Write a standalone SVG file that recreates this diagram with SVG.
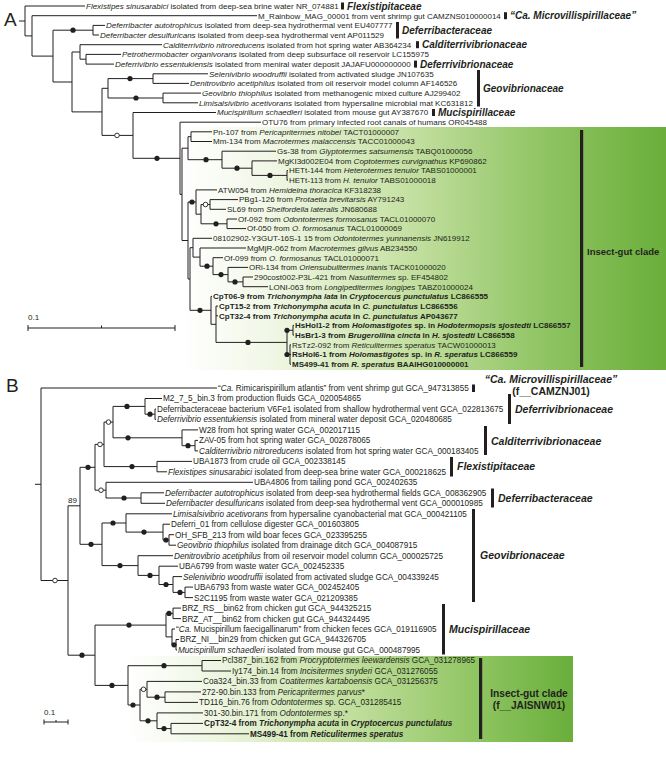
<svg xmlns="http://www.w3.org/2000/svg" width="666" height="760" viewBox="0 0 666 760">
<style>
.t{font-family:"Liberation Sans",Arial,Helvetica,sans-serif;font-size:8px;fill:#231f20}
.tB{font-size:8.2px}
.i{font-style:italic}
.b{font-weight:bold}
.fam{font-family:"Liberation Sans",Arial,sans-serif;font-weight:bold;font-style:italic;font-size:10px;fill:#231f20}
.famB{font-size:10.5px}
.cl{font-family:"Liberation Sans",Arial,sans-serif;font-weight:bold;font-size:9.5px;fill:#231f20}
.br{fill:none;stroke:#231f20;stroke-width:1}
.d{fill:#231f20}
.o{fill:#fff;stroke:#231f20;stroke-width:0.9}
.bar{fill:#231f20}
.pl{font-family:"Liberation Sans",Arial,sans-serif;font-size:19px;fill:#231f20}
</style>
<defs>
<linearGradient id="gA" gradientUnits="userSpaceOnUse" x1="183" y1="0" x2="666" y2="0">
<stop offset="0" stop-color="#ffffff"/>
<stop offset="0.18" stop-color="#f1f7e6"/>
<stop offset="0.45" stop-color="#c8e2a6"/>
<stop offset="0.75" stop-color="#8fc462"/>
<stop offset="1" stop-color="#6aae3b"/>
</linearGradient>
<linearGradient id="gB" gradientUnits="userSpaceOnUse" x1="128" y1="0" x2="573" y2="0">
<stop offset="0" stop-color="#ffffff"/>
<stop offset="0.2" stop-color="#eef6e2"/>
<stop offset="0.5" stop-color="#c2df9e"/>
<stop offset="0.8" stop-color="#8cc35e"/>
<stop offset="1" stop-color="#6aae3b"/>
</linearGradient>
</defs>

<!-- backgrounds -->
<rect x="183" y="127" width="483" height="243" fill="url(#gA)"/>
<rect x="128" y="656" width="445" height="86" fill="url(#gB)"/>

<text class="pl" x="4" y="26">A</text>
<text class="pl" x="6" y="392">B</text>

<!-- connectors panel A -->
<g id="connectors-A">
<path class="br" d="M19,21H25 M25,6V35.9 M25,6H85 M25,35.9H32 M32,15.7V56.1 M32,15.7H257 M32,56.1H53 M53,30.2V82 M53,30.2H93 M93,25.4V35 M93,25.4H105 M93,35H99 M53,82H72 M72,52V111.9 M72,52H80 M80,44.7V59.2 M80,44.7H162 M80,59.2H86 M86,54.4V64.1 M86,54.4H121 M86,64.1H114 M72,111.9H102 M102,88.3V135.4 M102,88.3H108 M108,78.6V98 M108,78.6H153 M153,73.8V83.4 M153,73.8H208 M153,83.4H189 M108,98H163 M163,93.1V102.8 M163,93.1H201 M163,102.8H198 M102,135.4H133 M133,112.5V158.3 M133,112.5H216 M133,158.3H180 M180,122.2V194.4 M180,122.2H261 M180,194.4H182 M182,148.2V240.5 M182,148.2H188 M188,136.7V159.7 M188,136.7H191 M191,131.8V141.5 M191,131.8H212 M191,141.5H212 M188,159.7H222 M222,151.2V168.2 M222,151.2H276 M222,168.2H252 M252,160.9V175.4 M252,160.9H277 M252,175.4H287 M287,170.6V180.2 M287,170.6H288 M287,180.2H288 M182,240.5H188 M188,202V279 M188,202H196 M196,189.9V214.2 M196,189.9H217 M196,214.2H201 M201,204.5V223.8 M201,204.5H210 M210,199.6V209.3 M210,199.6H238 M210,209.3H226 M201,223.8H227 M227,219V228.6 M227,219H237 M227,228.6H246 M188,279H190 M190,247.7V310.3 M190,247.7H193 M193,238.3V257.1 M193,238.3H212 M193,257.1H200 M200,248V266.2 M200,248H246 M200,266.2H213 M213,257.7V274.6 M213,257.7H223 M213,274.6H228 M228,267.4V281.9 M228,267.4H248 M228,281.9H243 M243,277V286.7 M243,277H253 M243,286.7H268 M190,310.3H211 M211,296.4V324.3 M211,296.4H212 M211,324.3H216 M216,306.1V342.4 M216,306.1H218 M216,315.8H218 M216,342.4H287 M287,330.3V354.5 M287,330.3H293 M293,325.4V335.1 M293,325.4H294 M293,335.1H294 M287,354.5H290 M290,344.8V364.2 M290,344.8H291 M290,354.5H291 M290,364.2H291"/>
<g class="d">
<circle cx="73" cy="30.2" r="2.6"/><circle cx="130" cy="78.6" r="2.6"/><circle cx="136" cy="98" r="2.6"/><circle cx="157" cy="158.3" r="2.6"/><circle cx="206" cy="159.7" r="2.6"/><circle cx="237" cy="168.2" r="2.6"/><circle cx="270" cy="175.4" r="2.6"/><circle cx="192" cy="202" r="2.6"/><circle cx="216" cy="223.8" r="2.6"/><circle cx="207" cy="266.2" r="2.6"/><circle cx="221" cy="274.6" r="2.6"/><circle cx="235" cy="281.9" r="2.6"/><circle cx="200" cy="310.3" r="2.6"/><circle cx="248" cy="342.4" r="2.6"/><circle cx="287" cy="330.3" r="2.6"/><circle cx="287" cy="354.5" r="2.6"/>
</g>
<g class="o"><circle cx="117" cy="135.4" r="2.3"/><circle cx="205.5" cy="204.5" r="2.3"/></g>
<path class="br" d="M28,328H175 M28,325V331 M175,325V331 M101.5,325.5V328"/>
<text class="t" x="28" y="320">0.1</text>
</g>

<!-- connectors panel B -->
<g id="connectors-B">
<path class="br" d="M35,484.3H41 M41,388V580.5 M41,388H217 M41,580.5H68 M68,505.8V655.2 M68,505.8H80 M80,467.3V544.3 M80,467.3H95 M95,444.4V490.2 M95,444.4H104 M104,422.1V466.6 M104,422.1H113 M113,406.4V437.8 M113,406.4H145 M145,398.5V414.2 M145,398.5H162 M145,414.2H155 M155,409V419.4 M155,409H156 M155,419.4H156 M113,437.8H182 M182,429.9V445.7 M182,429.9H198 M182,445.7H195 M195,440.4V450.9 M195,440.4H198 M195,450.9H198 M104,466.6H157 M157,461.4V471.8 M157,461.4H192 M157,471.8H167 M95,490.2H106 M106,482.3V498 M106,482.3H253 M106,498H141 M141,492.8V503.3 M141,492.8H164 M141,503.3H165 M80,544.3H102 M102,523V565.6 M102,523H126 M126,513.8V532.1 M126,513.8H172 M126,532.1H163 M163,524.2V540 M163,524.2H170 M163,540H169 M169,534.7V545.2 M169,534.7H174 M169,545.2H176 M102,565.6H138 M138,555.7V575.4 M138,555.7H173 M138,575.4H159 M159,566.2V584.5 M159,566.2H178 M159,584.5H173 M173,576.6V592.4 M173,576.6H182 M173,592.4H185 M185,587.1V597.6 M185,587.1H193 M185,597.6H193 M68,655.2H95 M95,625.1V685.4 M95,625.1H166 M166,613.4V636.9 M166,613.4H173 M173,608.1V618.6 M173,608.1H181 M173,618.6H181 M166,636.9H172 M172,629V644.8 M172,629H175 M172,644.8H176 M176,639.5V650 M176,639.5H179 M176,650H177 M95,685.4H128 M128,665.7V705 M128,665.7H202 M202,660.5V671 M202,660.5H221 M202,671H231 M128,705H140 M140,689.3V720.8 M140,689.3H147 M147,681.4V697.2 M147,681.4H202 M147,697.2H165 M165,691.9V702.4 M165,691.9H201 M165,702.4H198 M140,720.8H157 M157,712.9V728.6 M157,712.9H203 M157,728.6H171 M171,723.4V733.8 M171,723.4H203 M171,733.8H249"/>
<g class="d">
<circle cx="88" cy="467.3" r="2.6"/><circle cx="127" cy="406.4" r="2.6"/><circle cx="150" cy="414.2" r="2.6"/><circle cx="128" cy="437.8" r="2.6"/><circle cx="188" cy="445.7" r="2.6"/><circle cx="132" cy="466.6" r="2.6"/><circle cx="124" cy="498" r="2.6"/><circle cx="91" cy="544.3" r="2.6"/><circle cx="113" cy="523" r="2.6"/><circle cx="144" cy="532.1" r="2.6"/><circle cx="166" cy="540" r="2.6"/><circle cx="120" cy="565.6" r="2.6"/><circle cx="150" cy="575.4" r="2.6"/><circle cx="166" cy="584.5" r="2.6"/><circle cx="180" cy="592.4" r="2.6"/><circle cx="82" cy="655.2" r="2.6"/><circle cx="129" cy="625.1" r="2.6"/><circle cx="169" cy="613.4" r="2.6"/><circle cx="174" cy="644.8" r="2.6"/><circle cx="112" cy="685.4" r="2.6"/><circle cx="164" cy="665.7" r="2.6"/><circle cx="133" cy="705" r="2.6"/><circle cx="157" cy="697.2" r="2.6"/><circle cx="148" cy="720.8" r="2.6"/><circle cx="164" cy="728.6" r="2.6"/>
</g>
<g class="o"><circle cx="100" cy="444.4" r="2.3"/><circle cx="108.5" cy="422.1" r="2.3"/><circle cx="101" cy="490.2" r="2.3"/><circle cx="55" cy="580.5" r="2.3"/><circle cx="143.5" cy="689.3" r="2.3"/></g>
<text class="t" x="68" y="502.5">89</text>
<path class="br" d="M44,722H68 M44,719.5V724.5 M68,719.5V724.5 M56,720V722"/>
<text class="t" x="44" y="715">0.1</text>
</g>

<!-- panel A leaves -->
<g id="A-leaves">
<g id="A1"><text class="t" x="86" y="8.8"><tspan class="i">Flexistipes sinusarabici</tspan> isolated from deep-sea brine water NR_074881</text></g>
<g id="A2"><text class="t" x="258" y="18.5">M_Rainbow_MAG_00001 from vent shrimp gut CAMZNS010000014</text></g>
<g id="A3"><text class="t" x="106" y="28.2"><tspan class="i">Deferribacter autotrophicus</tspan> isolated from deep-sea hydrothermal vent EU407777</text></g>
<g id="A4"><text class="t" x="100" y="37.8"><tspan class="i">Deferribacter desulfuricans</tspan> isolated from deep-sea hydrothermal vent AP011529</text></g>
<g id="A5"><text class="t" x="163" y="47.5"><tspan class="i">Calditerrivibrio nitroreducens</tspan> isolated from hot spring water AB364234</text></g>
<g id="A6"><text class="t" x="122" y="57.2"><tspan class="i">Petrothermobacter organivorans</tspan> isolated from deep subsurface oil reservoir LC155975</text></g>
<g id="A7"><text class="t" x="115" y="66.9"><tspan class="i">Deferrivibrio essentukiensis</tspan> isolated from meniral water deposit JAJAFU000000000</text></g>
<g id="A8"><text class="t" x="209" y="76.6"><tspan class="i">Selenivibrio woodruffii</tspan> isolated from activated sludge JN107635</text></g>
<g id="A9"><text class="t" x="190" y="86.2"><tspan class="i">Denitrovibrio acetiphilus</tspan> isolated from oil reservoir model column AF146526</text></g>
<g id="A10"><text class="t" x="202" y="95.9"><tspan class="i">Geovibrio thiophilus</tspan> isolated from methanogenic mixed culture AJ299402</text></g>
<g id="A11"><text class="t" x="199" y="105.6"><tspan class="i">Limisalsivibrio acetivorans</tspan> isolated from hypersaline microbial mat KC631812</text></g>
<g id="A12"><text class="t" x="217" y="115.3"><tspan class="i">Mucispirillum schaedleri</tspan> isolated from mouse gut AY387670</text></g>
<g id="A13"><text class="t" x="262" y="125">OTU76 from primary infected root canals of humans OR045488</text></g>
<g id="A14"><text class="t" x="213" y="134.6">Pn-107 from <tspan class="i">Pericapritermes nitobei</tspan> TACT01000007</text></g>
<g id="A15"><text class="t" x="213" y="144.3">Mm-134 from <tspan class="i">Macrotermes malaccensis</tspan> TACC01000043</text></g>
<g id="A16"><text class="t" x="277" y="154">Gs-38 from <tspan class="i">Glyptotermes satsumensis</tspan> TABQ01000056</text></g>
<g id="A17"><text class="t" x="278" y="163.7">MgKI3d002E04 from <tspan class="i">Coptotermes curvignathus</tspan> KP690862</text></g>
<g id="A18"><text class="t" x="289" y="173.4">HETt-144 from <tspan class="i">Heterotermes tenuior</tspan> TABS01000001</text></g>
<g id="A19"><text class="t" x="289" y="183">HETt-113 from <tspan class="i">H. tenuior</tspan> TABS01000018</text></g>
<g id="A20"><text class="t" x="218" y="192.7">ATW054 from <tspan class="i">Hemideina thoracica</tspan> KF318238</text></g>
<g id="A21"><text class="t" x="239" y="202.4">PBg1-126 from <tspan class="i">Protaetia brevitarsis</tspan> AY791243</text></g>
<g id="A22"><text class="t" x="227" y="212.1">SL69 from <tspan class="i">Shelfordella lateralis</tspan> JN680688</text></g>
<g id="A23"><text class="t" x="238" y="221.8">Of-092 from <tspan class="i">Odontotermes formosanus</tspan> TACL01000070</text></g>
<g id="A24"><text class="t" x="247" y="231.4">Of-050 from <tspan class="i">O. formosanus</tspan> TACL01000069</text></g>
<g id="A25"><text class="t" x="213" y="241.1">08102902-Y3GUT-16S-1 15 from <tspan class="i">Odontotermes yunnanensis</tspan> JN619912</text></g>
<g id="A26"><text class="t" x="247" y="250.8">MgMjR-062 from <tspan class="i">Macrotermes gilvus</tspan> AB234550</text></g>
<g id="A27"><text class="t" x="224" y="260.5">Of-099 from <tspan class="i">O. formosanus</tspan> TACL01000071</text></g>
<g id="A28"><text class="t" x="249" y="270.2">ORi-134 from <tspan class="i">Oriensubulitermes inanis</tspan> TACK01000020</text></g>
<g id="A29"><text class="t" x="254" y="279.8">290cost002-P3L-421 from <tspan class="i">Nasutitermes</tspan> sp. EF454802</text></g>
<g id="A30"><text class="t" x="269" y="289.5">LONI-063 from <tspan class="i">Longipeditermes longipes</tspan> TABZ01000024</text></g>
<g id="A31"><text class="t b" x="213" y="299.2">CpT06-9 from <tspan class="i">Trichonympha lata</tspan> in <tspan class="i">Cryptocercus punctulatus</tspan> LC866555</text></g>
<g id="A32"><text class="t b" x="219" y="308.9">CpT15-2 from <tspan class="i">Trichonympha acuta</tspan> in <tspan class="i">C. punctulatus</tspan> LC866556</text></g>
<g id="A33"><text class="t b" x="219" y="318.6">CpT32-4 from <tspan class="i">Trichonympha acuta</tspan> in <tspan class="i">C. punctulatus</tspan> AP043677</text></g>
<g id="A34"><text class="t b" x="295" y="328.2">HsHol1-2 from <tspan class="i">Holomastigotes</tspan> sp. in <tspan class="i">Hodotermopsis sjostedti</tspan> LC866557</text></g>
<g id="A35"><text class="t b" x="295" y="337.9">HsBr1-3 from <tspan class="i">Brugerollina cincta</tspan> in <tspan class="i">H. sjostedti</tspan> LC866558</text></g>
<g id="A36"><text class="t" x="292" y="347.6">RsTz2-092 from <tspan class="i">Reticulitermes speratus</tspan> TACW01000013</text></g>
<g id="A37"><text class="t b" x="292" y="357.3">RsHol6-1 from <tspan class="i">Holomastigotes</tspan> sp. in <tspan class="i">R. speratus</tspan> LC866559</text></g>
<g id="A38"><text class="t b" x="292" y="367">MS499-41 from <tspan class="i">R. speratus</tspan> BAAIHG010000001</text></g>
</g>

<!-- panel A family labels -->
<g id="A-families">
<rect class="bar" x="341" y="2.5" width="3" height="7"/><text class="fam" x="347" y="9.6">Flexistipitaceae</text>
<rect class="bar" x="504" y="12.2" width="3" height="7"/><text class="fam" x="510" y="19.3">“Ca. Microvillispirillaceae”</text>
<rect class="bar" x="396" y="22" width="3" height="16.5"/><text class="fam" x="402" y="33.8">Deferribacteraceae</text>
<rect class="bar" x="416" y="41.2" width="3" height="7"/><text class="fam" x="422" y="48.3">Calditerrivibrionaceae</text>
<rect class="bar" x="414" y="60.6" width="3" height="7"/><text class="fam" x="420" y="67.7">Deferrivibrionaceae</text>
<rect class="bar" x="477" y="70" width="3" height="36.5"/><text class="fam" x="483" y="91.9">Geovibrionaceae</text>
<rect class="bar" x="432" y="109" width="3" height="7"/><text class="fam" x="438" y="116.1">Mucispirillaceae</text>
<rect class="bar" x="580" y="130" width="3.2" height="237"/><text class="cl" x="587" y="255">Insect-gut clade</text>
</g>

<!-- panel B leaves -->
<g id="B-leaves">
<g id="B1"><text class="t tB" x="218" y="390.9">“<tspan class="i">Ca.</tspan> Rimicarispirillum atlantis” from vent shrimp gut GCA_947313855</text></g>
<g id="B2"><text class="t tB" x="163" y="401.4">M2_7_5_bin.3 from production fluids GCA_020054865</text></g>
<g id="B3"><text class="t tB" x="157" y="411.9">Deferribacteraceae bacterium V6Fe1 isolated from shallow hydrothermal vent GCA_022813675</text></g>
<g id="B4"><text class="t tB" x="157" y="422.3"><tspan class="i">Deferrivibrio essentukiensis</tspan> isolated from mineral water deposit GCA_020480685</text></g>
<g id="B5"><text class="t tB" x="199" y="432.8">W28 from hot spring water GCA_002017115</text></g>
<g id="B6"><text class="t tB" x="199" y="443.3">ZAV-05 from hot spring water GCA_002878065</text></g>
<g id="B7"><text class="t tB" x="199" y="453.8"><tspan class="i">Calditerrivibrio nitroreducens</tspan> isolated from hot spring water GCA_000183405</text></g>
<g id="B8"><text class="t tB" x="193" y="464.3">UBA1873 from crude oil GCA_002338145</text></g>
<g id="B9"><text class="t tB" x="168" y="474.7"><tspan class="i">Flexistipes sinusarabici</tspan> isolated from deep-sea brine water GCA_000218625</text></g>
<g id="B10"><text class="t tB" x="254" y="485.2">UBA4806 from tailing pond GCA_002402635</text></g>
<g id="B11"><text class="t tB" x="165" y="495.7"><tspan class="i">Deferribacter autotrophicus</tspan> isolated from deep-sea hydrothermal fields GCA_008362905</text></g>
<g id="B12"><text class="t tB" x="166" y="506.2"><tspan class="i">Deferribacter desulfuricans</tspan> isolated from deep-sea hydrothermal vent GCA_000010985</text></g>
<g id="B13"><text class="t tB" x="173" y="516.7"><tspan class="i">Limisalsivibrio acetivorans</tspan> from hypersaline cyanobacterial mat GCA_000421105</text></g>
<g id="B14"><text class="t tB" x="171" y="527.1">Deferri_01 from cellulose digester GCA_001603805</text></g>
<g id="B15"><text class="t tB" x="175" y="537.6">OH_SFB_213 from wild boar feces GCA_023395255</text></g>
<g id="B16"><text class="t tB" x="177" y="548.1"><tspan class="i">Geovibrio thiophilus</tspan> isolated from drainage ditch GCA_004087915</text></g>
<g id="B17"><text class="t tB" x="174" y="558.6"><tspan class="i">Denitrovibrio acetiphilus</tspan> from oil reservoir model column GCA_000025725</text></g>
<g id="B18"><text class="t tB" x="179" y="569.1">UBA6799 from waste water GCA_002452335</text></g>
<g id="B19"><text class="t tB" x="183" y="579.5"><tspan class="i">Selenivibrio woodruffii</tspan> isolated from activated sludge GCA_004339245</text></g>
<g id="B20"><text class="t tB" x="194" y="590">UBA6793 from waste water GCA_002452405</text></g>
<g id="B21"><text class="t tB" x="194" y="600.5">S2C1195 from waste water GCA_021209385</text></g>
<g id="B22"><text class="t tB" x="182" y="611">BRZ_RS__bin62 from chicken gut GCA_944325215</text></g>
<g id="B23"><text class="t tB" x="182" y="621.5">BRZ_AT__bin62 from chicken gut GCA_944324495</text></g>
<g id="B24"><text class="t tB" x="176" y="631.9">“<tspan class="i">Ca.</tspan> Mucispirillum faecigallinarum” from chicken feces GCA_019116905</text></g>
<g id="B25"><text class="t tB" x="180" y="642.4">BRZ_NI__bin29 from chicken gut GCA_944326705</text></g>
<g id="B26"><text class="t tB" x="178" y="652.9"><tspan class="i">Mucispirillum schaedleri</tspan> isolated from mouse gut GCA_000487995</text></g>
<g id="B27"><text class="t tB" x="222" y="663.4">Pcl387_bin.162 from <tspan class="i">Procryptotermes leewardensis</tspan> GCA_031278965</text></g>
<g id="B28"><text class="t tB" x="232" y="673.9">Iy174_bin.14 from <tspan class="i">Incisitermes snyderi</tspan> GCA_031276055</text></g>
<g id="B29"><text class="t tB" x="203" y="684.3">Coa324_bin.33 from <tspan class="i">Coatitermes kartaboensis</tspan> GCA_031256375</text></g>
<g id="B30"><text class="t tB" x="202" y="694.8">272-90.bin.133 from <tspan class="i">Pericapritermes parvus</tspan>*</text></g>
<g id="B31"><text class="t tB" x="199" y="705.3">TD116_bin.76 from <tspan class="i">Odontotermes</tspan> sp. GCA_031285415</text></g>
<g id="B32"><text class="t tB" x="204" y="715.8">301-30.bin.171 from <tspan class="i">Odontotermes</tspan> sp.*</text></g>
<g id="B33"><text class="t tB b" x="204" y="726.3">CpT32-4 from <tspan class="i">Trichonympha acuta</tspan> in <tspan class="i">Cryptocercus punctulatus</tspan></text></g>
<g id="B34"><text class="t tB b" x="250" y="736.7">MS499-41 from <tspan class="i">Reticulitermes speratus</tspan></text></g>
</g>

<!-- panel B family labels -->
<g id="B-families">
<rect class="bar" x="472" y="384.5" width="3" height="7.5"/>
<text class="fam famB" x="551" y="382.5" text-anchor="middle">“Ca. Microvillispirillaceae”</text>
<text class="fam famB" x="551" y="394.5" text-anchor="middle" style="font-style:normal">(f__CAMZNJ01)</text>
<rect class="bar" x="508" y="394" width="3" height="30"/><text class="fam famB" x="515" y="413">Deferrivibrionaceae</text>
<rect class="bar" x="484" y="426" width="3" height="29"/><text class="fam famB" x="491" y="445">Calditerrivibrionaceae</text>
<rect class="bar" x="450" y="457" width="3" height="19.5"/><text class="fam famB" x="457" y="470">Flexistipitaceae</text>
<rect class="bar" x="491" y="488.5" width="3" height="19"/><text class="fam famB" x="498" y="502">Deferribacteraceae</text>
<rect class="bar" x="472" y="509" width="3" height="93"/><text class="fam famB" x="480" y="559">Geovibrionaceae</text>
<rect class="bar" x="442" y="604" width="3" height="50.5"/><text class="fam famB" x="449" y="632.8">Mucispirillaceae</text>
<rect class="bar" x="479" y="658" width="3.2" height="81"/>
<text class="cl" x="529" y="697" text-anchor="middle" style="font-size:10.2px">Insect-gut clade</text>
<text class="cl" x="529" y="709" text-anchor="middle" style="font-size:10.2px">(f__JAISNW01)</text>
</g>
</svg>
